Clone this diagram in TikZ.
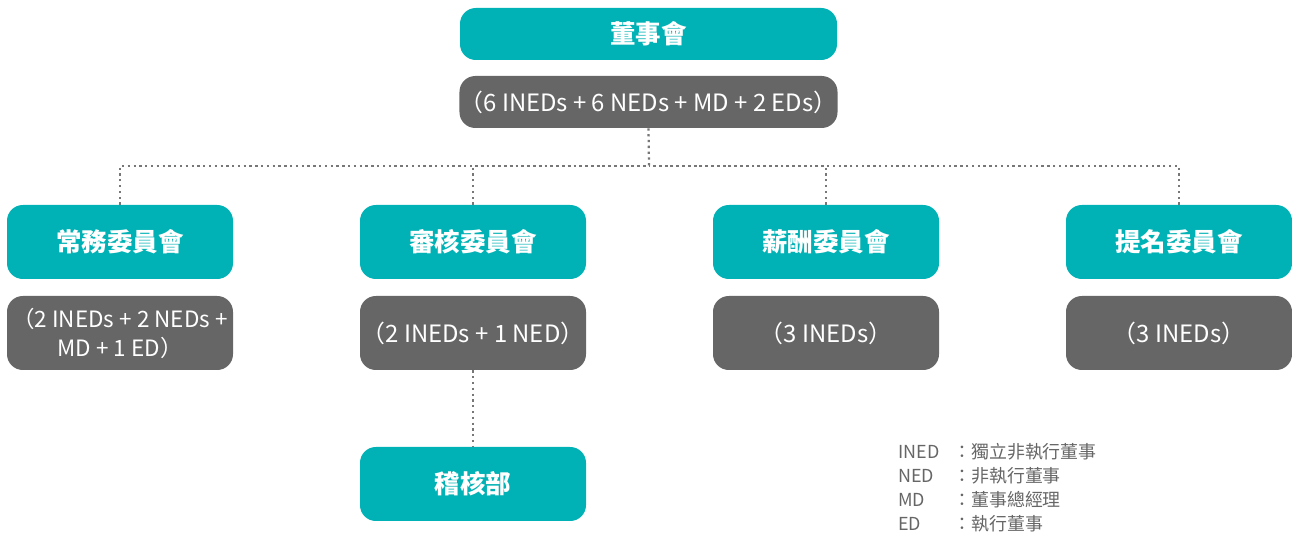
\documentclass[tikz,border=0pt]{standalone}
\usepackage{fontspec}
\setmainfont{Noto Sans CJK TC}
\usetikzlibrary{positioning}
\definecolor{teal}{HTML}{00B2B5}
\definecolor{darkgray}{HTML}{666666}
\definecolor{dotgray}{HTML}{777777}
\tikzset{
  titlebox/.style={fill=teal, rounded corners=9pt, text=white, font=\fontsize{14.5}{17}\selectfont\bfseries, align=center, inner sep=0pt},
  infobox/.style={fill=darkgray, rounded corners=9pt, text=white, font=\fontsize{13.6}{16.5}\selectfont, align=center, inner sep=0pt},
  conn/.style={dotgray, line width=1.3pt, dash pattern=on 1.3pt off 2pt},
  legend/.style={font=\fontsize{10.2}{13.7}\selectfont, text=darkgray, anchor=north west, align=left, inner sep=0pt}
}
\newcommand{\lgkey}[1]{\makebox[1.1cm][l]{#1}}
\begin{document}
\begin{tikzpicture}[x=0.02cm, y=-0.02cm]
\useasboundingbox (0,0) rectangle (1292,536);
% top
\node[titlebox, minimum width=377*0.02cm, minimum height=52*0.02cm] (board) at (648.5,34) {董事會};
\node[infobox, minimum width=377*0.02cm, minimum height=52*0.02cm] (boardinfo) at (648.5,102) {（6 INEDs + 6 NEDs + MD + 2 EDs）};
% committees
\foreach \n/\cx/\t in {c1/120/常務委員會, c2/473/審核委員會, c3/826/薪酬委員會, c4/1179/提名委員會}{
  \node[titlebox, minimum width=226*0.02cm, minimum height=74*0.02cm] (\n) at (\cx,242) {\t};
}
\node[infobox, minimum width=226*0.02cm, minimum height=74*0.02cm, font=\fontsize{12.8}{16.5}\selectfont] (i1) at (120,333) {（2 INEDs + 2 NEDs +\\MD + 1 ED）};
\node[infobox, minimum width=226*0.02cm, minimum height=74*0.02cm] (i2) at (473,333) {（2 INEDs + 1 NED）};
\node[infobox, minimum width=226*0.02cm, minimum height=74*0.02cm] (i3) at (826,333) {（3 INEDs）};
\node[infobox, minimum width=226*0.02cm, minimum height=74*0.02cm] (i4) at (1179,333) {（3 INEDs）};
\node[titlebox, minimum width=226*0.02cm, minimum height=74*0.02cm] (audit) at (473,484) {稽核部};
% connectors
\coordinate (hub) at (649,166);
\draw[conn] (boardinfo.south) -- (hub);
\draw[conn] (c1.north) |- (hub);
\draw[conn] (c2.north) |- (hub);
\draw[conn] (c3.north) |- (hub);
\draw[conn] (c4.north) |- (hub);
\draw[conn] (i2.south) -- (audit.north);
% legend
\node[legend] (lg) at (898,443) {\lgkey{INED}：獨立非執行董事\\\lgkey{NED}：非執行董事\\\lgkey{MD}：董事總經理\\\lgkey{ED}：執行董事};
\end{tikzpicture}
\end{document}
